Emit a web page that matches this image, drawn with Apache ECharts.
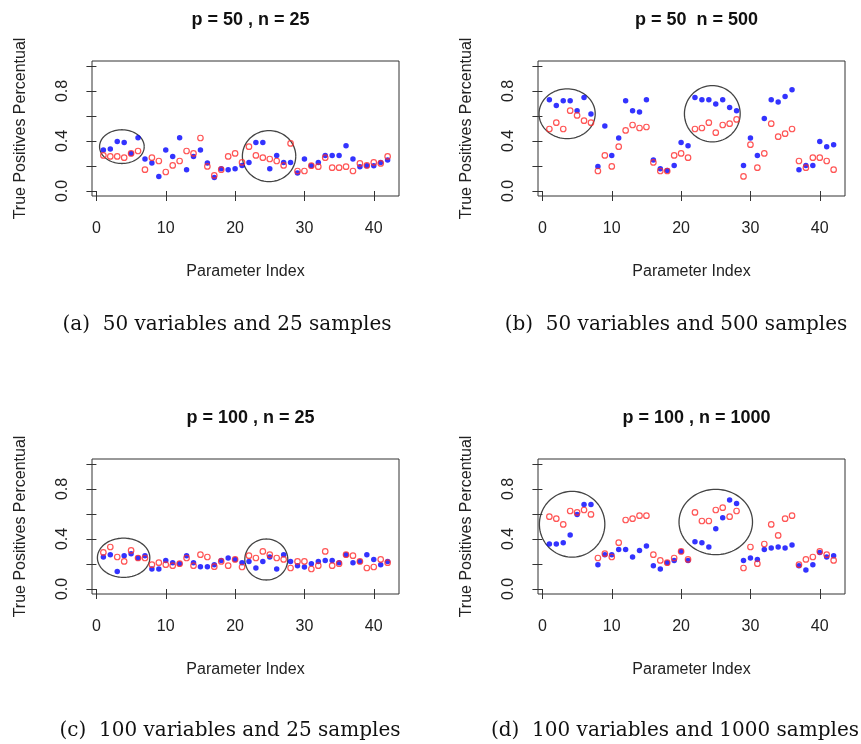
<!DOCTYPE html>
<html>
<head>
<meta charset="utf-8">
<script src="https://cdn.jsdelivr.net/npm/echarts@6/dist/echarts.min.js"></script>
<style>html,body{margin:0;padding:0;background:#fff}#c{width:861px;height:744px}</style>
</head>
<body>
<div id="c"></div>
<script>
const paramIndex = [1,2,3,4,5,6,7,8,9,10,11,12,13,14,15,16,17,18,19,20,21,22,23,24,25,26,27,28,29,30,31,32,33,34,35,36,37,38,39,40,41,42];

const panelTitles = ['p = 50 , n = 25', 'p = 50  n = 500', 'p = 100 , n = 25', 'p = 100 , n = 1000'];
const captions = ['(a)  50 variables and 25 samples', '(b)  50 variables and 500 samples', '(c)  100 variables and 25 samples', '(d)  100 variables and 1000 samples'];
const xTicks = [0, 10, 20, 30, 40];
const yTicks = [0, 0.2, 0.4, 0.6, 0.8, 1.0];
const yLabels = [0, 0.4, 0.8];

const aBlue = [0.328,0.336,0.397,0.389,0.301,0.427,0.256,0.224,0.117,0.328,0.277,0.427,0.171,0.277,0.328,0.224,0.109,0.179,0.171,0.179,0.205,
               0.229,0.389,0.389,0.179,0.285,0.229,0.229,0.144,0.256,0.203,0.229,0.285,0.285,0.285,0.363,0.256,0.195,0.203,0.203,0.229,0.248];
const aRed  = [0.285,0.277,0.277,0.267,0.301,0.320,0.171,0.267,0.240,0.152,0.205,0.240,0.320,0.301,0.424,0.197,0.125,0.171,0.277,0.301,0.229,
               0.355,0.285,0.267,0.256,0.240,0.205,0.381,0.160,0.160,0.203,0.195,0.267,0.187,0.187,0.195,0.160,0.221,0.205,0.229,0.221,0.277];
const bBlue = [0.731,0.685,0.723,0.723,0.643,0.749,0.616,0.197,0.520,0.285,0.424,0.723,0.643,0.632,0.731,0.248,0.179,0.165,0.205,0.389,
               0.363,0.749,0.731,0.731,0.696,0.731,0.669,0.643,0.205,0.424,0.285,0.581,0.731,0.712,0.757,0.811,0.171,0.205,0.205,0.397,0.355,0.371];
const bRed  = [0.496,0.547,0.496,0.643,0.605,0.563,0.547,0.160,0.285,0.197,0.355,0.485,0.528,0.504,0.512,0.229,0.160,0.160,0.285,0.301,
               0.267,0.496,0.504,0.547,0.467,0.528,0.539,0.573,0.117,0.371,0.187,0.301,0.539,0.435,0.459,0.496,0.240,0.187,0.267,0.267,0.240,0.171];
const cBlue = [0.256,0.275,0.141,0.267,0.283,0.248,0.267,0.160,0.160,0.229,0.211,0.203,0.267,0.211,0.179,0.179,0.195,0.229,0.248,0.237,0.211,
               0.221,0.168,0.221,0.256,0.160,0.275,0.221,0.187,0.176,0.203,0.221,0.229,0.229,0.211,0.275,0.211,0.221,0.275,0.237,0.195,0.221];
const cRed  = [0.293,0.336,0.256,0.221,0.309,0.248,0.248,0.195,0.211,0.195,0.187,0.203,0.248,0.187,0.275,0.256,0.179,0.221,0.187,0.237,0.176,
               0.267,0.248,0.301,0.275,0.248,0.237,0.168,0.221,0.221,0.160,0.187,0.301,0.187,0.203,0.275,0.267,0.221,0.168,0.176,0.237,0.211];
const dBlue = [0.360,0.360,0.371,0.432,0.597,0.677,0.677,0.195,0.275,0.275,0.317,0.317,0.256,0.309,0.344,0.187,0.160,0.211,0.229,0.301,
               0.229,0.379,0.371,0.336,0.483,0.571,0.712,0.685,0.229,0.248,0.237,0.317,0.328,0.336,0.328,0.352,0.187,0.152,0.195,0.293,0.256,0.267];
const dRed  = [0.579,0.563,0.517,0.624,0.613,0.632,0.597,0.248,0.283,0.256,0.371,0.552,0.563,0.587,0.587,0.275,0.229,0.211,0.248,0.301,
               0.237,0.613,0.544,0.544,0.632,0.651,0.579,0.624,0.168,0.336,0.203,0.360,0.517,0.429,0.563,0.587,0.195,0.237,0.256,0.301,0.275,0.229];

// highlight ellipses: [centerX, centerY, radiusX, radiusY] in data units
const aEllipses = [[3.67,0.355,3.22,0.135],[24.9,0.279,3.85,0.204]];
const bEllipses = [[3.56,0.618,4.05,0.199],[24.5,0.618,4.02,0.225]];
const cEllipses = [[3.92,0.250,3.78,0.157],[24.5,0.236,3.10,0.164]];
const dEllipses = [[4.28,0.518,4.72,0.263],[25.0,0.536,5.30,0.261]];

const blues = [aBlue, bBlue, cBlue, dBlue];
const reds = [aRed, bRed, cRed, dRed];
const ellipses = [aEllipses, bEllipses, cEllipses, dEllipses];

const gridPos = [
  {left: 92, top: 61}, {left: 538, top: 61},
  {left: 92, top: 459}, {left: 538, top: 459}
];
const GW = 307, GH = 135;
const FONT = 'Liberation Sans, Arial, sans-serif';
const SERIF = 'DejaVu Serif, serif';

const grid = [], xAxis = [], yAxis = [], series = [], title = [];
for (let k = 0; k < 4; k++) {
  grid.push({left: gridPos[k].left, top: gridPos[k].top, width: GW, height: GH,
    show: true, borderColor: '#333', borderWidth: 1, backgroundColor: 'transparent'});
  xAxis.push({type: 'value', gridIndex: k, min: -0.64, max: 43.64,
    name: 'Parameter Index', nameLocation: 'middle', nameGap: 68,
    nameTextStyle: {fontFamily: FONT, fontSize: 16, color: '#222'},
    axisLine: {show: false}, splitLine: {show: false},
    axisTick: {show: true, length: 10, customValues: xTicks, lineStyle: {color: '#333'}},
    axisLabel: {customValues: xTicks, margin: 25, fontFamily: FONT, fontSize: 16, color: '#222'}});
  yAxis.push({type: 'value', gridIndex: k, min: -0.04, max: 1.04,
    name: 'True Positives Percentual', nameLocation: 'middle', nameGap: 63,
    nameTextStyle: {fontFamily: FONT, fontSize: 16, color: '#222'},
    axisLine: {show: false}, splitLine: {show: false},
    axisTick: {show: true, length: 10, customValues: yTicks, lineStyle: {color: '#333'}},
    axisLabel: {customValues: yLabels, rotate: 90, margin: 21, fontFamily: FONT, fontSize: 16, color: '#222',
      formatter: v => Number(v).toFixed(1)}});
  series.push({type: 'scatter', xAxisIndex: k, yAxisIndex: k, symbol: 'circle', symbolSize: 5.5,
    itemStyle: {color: '#0000ff'}, silent: true,
    data: paramIndex.map((x, i) => [x, blues[k][i]])});
  series.push({type: 'scatter', xAxisIndex: k, yAxisIndex: k, symbol: 'circle', symbolSize: 5.5,
    itemStyle: {color: 'rgba(0,0,0,0)', borderColor: '#ff2a2a', borderWidth: 1.2}, silent: true,
    data: paramIndex.map((x, i) => [x, reds[k][i]])});
  series.push({type: 'custom', xAxisIndex: k, yAxisIndex: k, silent: true,
    encode: {x: 0, y: 1},
    data: ellipses[k],
    renderItem: function (params, api) {
      const c = api.coord([api.value(0), api.value(1)]);
      const s = api.size([api.value(2), api.value(3)]);
      const pts = [];
      for (let t = 0; t <= 96; t++) {
        const a = t / 96 * Math.PI * 2;
        pts.push([c[0] + s[0] * Math.cos(a), c[1] + s[1] * Math.sin(a)]);
      }
      return {type: 'polyline', shape: {points: pts},
        style: {fill: null, stroke: '#444', lineWidth: 1.3}};
    }});
  title.push({text: panelTitles[k], left: gridPos[k].left + GW / 2, top: gridPos[k].top - 55,
    textAlign: 'center',
    textStyle: {fontFamily: FONT, fontSize: 18, fontWeight: 'bold', color: '#111'}});
}
const capPos = [[222, 310], [671, 310], [225, 716], [670, 716]];
for (let k = 0; k < 4; k++) {
  title.push({text: captions[k], left: capPos[k][0], top: capPos[k][1], textAlign: 'center',
    textStyle: {fontFamily: SERIF, fontSize: 20, fontWeight: 'normal', color: '#111'}});
}

const chart = echarts.init(document.getElementById('c'), null, {renderer: 'canvas'});
chart.setOption({animation: false, backgroundColor: '#fff', title, grid, xAxis, yAxis, series});
</script>
</body>
</html>
